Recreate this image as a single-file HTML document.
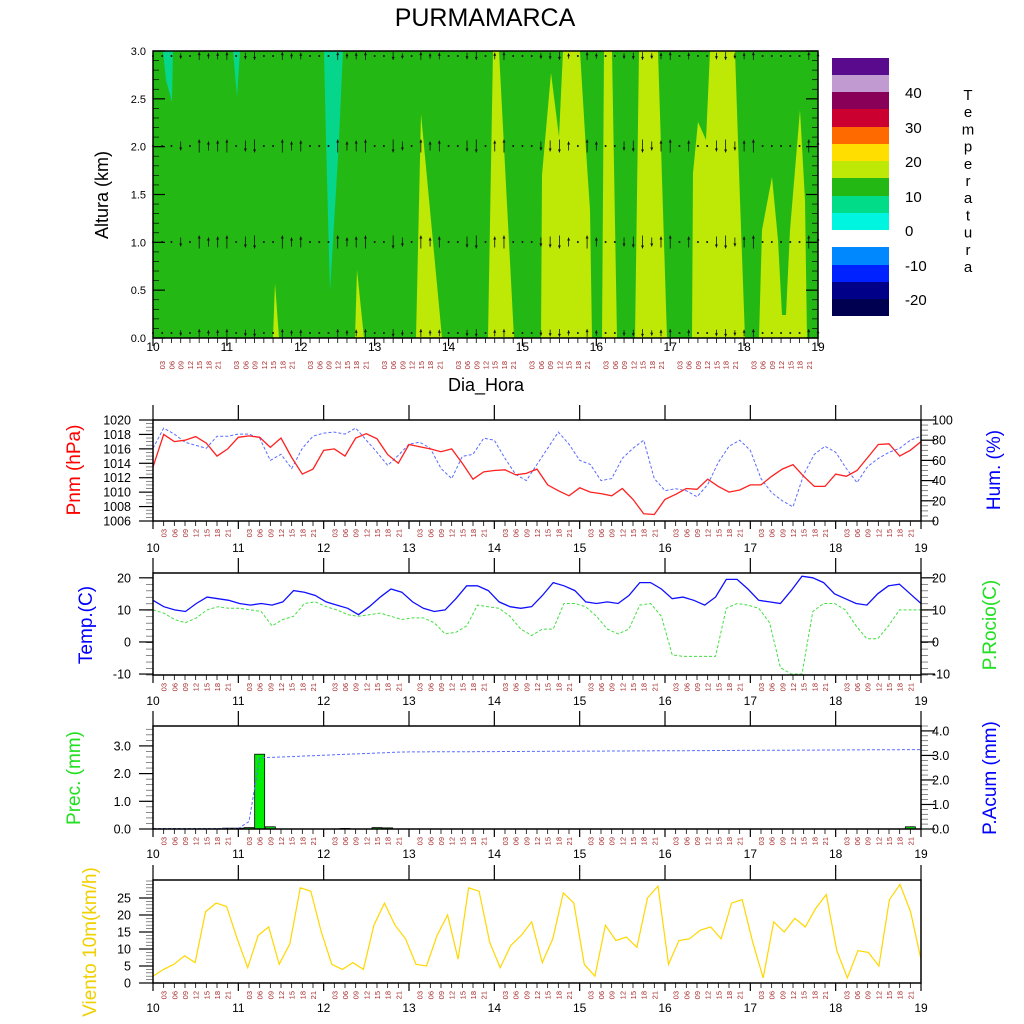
<!DOCTYPE html><html><head><meta charset="utf-8"><style>body{margin:0;background:#fff}svg{display:block;font-family:"Liberation Sans",sans-serif}</style></head><body>
<svg id="s" width="1024" height="1024" viewBox="0 0 1024 1024" xmlns="http://www.w3.org/2000/svg"></svg>
<script>
const S=document.getElementById('s');let h='';
const add=t=>h+=t;
function line(x1,y1,x2,y2,c='#000',w=1,extra=''){add(`<line x1="${x1}" y1="${y1}" x2="${x2}" y2="${y2}" stroke="${c}" stroke-width="${w}" ${extra}/>`);}
function txt(x,y,t,sz,c='#000',anchor='middle',rot=0){add(`<text x="${x}" y="${y}" font-size="${sz}" fill="${c}" text-anchor="${anchor}" ${rot?`transform="rotate(${rot} ${x} ${y})"`:''}>${t}</text>`);}
add(`<text x="485" y="26" font-size="25" text-anchor="middle">PURMAMARCA</text>`);
const TL=153,TR=818,TT=51,TB=338;
add(`<rect x="${TL}" y="${TT}" width="${TR-TL}" height="${TB-TT}" fill="#24b814"/>`);
const T='#05d68c',Y='#bee806';
const polys=[
[T,'163,51 173,51 172,102 166,80'],[T,'233,51 240,51 237,97'],[T,'324,51 343,51 339,140 330,292 326,140'],
[Y,'273,338 279,338 275,283'],[Y,'355,338 364,338 357,270'],[Y,'416,338 442,338 421,114'],
[Y,'493,51 499,51 514,338 488,338'],
[Y,'541,338 542,175 551,73 559,137 563,51 580,51 586,150 590,210 592,338'],
[Y,'604,51 612,51 617,338 602,338'],[Y,'639,51 658,51 667,338 635,338'],
[Y,'692,338 693,173 698,122 706,140 710,51 735,51 740,200 745,338'],
[Y,'759,338 762,230 772,177 778,240 782,315 786,315 790,230 800,110 805,200 807,338']];
polys.forEach(p=>add(`<polygon points="${p[1]}" fill="${p[0]}"/>`));
const dirs=[0,0,0,-1,0,1,1,1,1,0,-1,-1,0,0,1,1,1,0,0,0,1,1,1,1,0,0,-1,-1,0,1,1,1,0,0,-1,-1,0,1,1,0,0,0,-1,-1,-1,1,0,1,1,0,0,-1,-1,-1,-1,1,1,0,1,0,0,-1,-1,-1,1,1,0,0,0,0,0,1,1];
const dx=(TR-TL)/72;
[[242,1],[146,1],[56,0.6],[333,0.6]].forEach(([yc,f])=>{for(let i=0;i<73;i++){const x=TL+i*dx,d=dirs[i]||0;const L=(d===0?2:9+(i%3)*2)*f;
 if(d===0){add(`<circle cx="${x}" cy="${yc}" r="1" fill="#111"/>`);continue;}
 const y1=yc+d*L/2,y2=yc-d*L/2;line(x,y1,x,y2,'#111',0.8);
 add(`<polygon points="${x-1.5},${y2+d*3} ${x+1.5},${y2+d*3} ${x},${y2}" fill="#111"/>`);}});
add(`<rect x="${TL}" y="${TT}" width="${TR-TL}" height="${TB-TT}" fill="none" stroke="#000" stroke-width="1.5"/>`);
const kmp=(TB-TT)/3;
for(let k=0;k<=30;k++){const y=TB-k*kmp/10,M=k%5==0;line(TL,y,TL+(M?12:6),y,'#000',M?1.2:0.7);line(TR,y,TR-(M?12:6),y,'#000',M?1.2:0.7);if(M)txt(146,y+4,(k/10).toFixed(1),11,'#000','end');}
txt(108,195,'Altura (km)',18,'#000','middle',-90);
const hrs=['03','06','09','12','15','18','21'];
function xaxis(L,R,B,dayY,hrTop){const dd=(R-L)/9;
 for(let i=0;i<=72;i++){const x=L+i*dd/8,M=i%8==0;line(x,B,x,B+(M?8:5),'#000',M?1.2:0.8);
  if(M)txt(x,dayY,String(10+i/8),12,'#000','middle');else txt(x+3,hrTop,hrs[i%8-1],7.5,'#a52a2a','end',-90);} }
xaxis(TL,TR,TB,351,361);
txt(486,391,'Dia_Hora',18);
const cb=[[58,'#5a0a8c'],[75,'#c09ad0'],[92,'#880058'],[109,'#cc0030'],[127,'#ff6a00'],[144,'#ffde00'],[161,'#bee806'],[178,'#24b814'],[196,'#00dc88'],[213,'#00f5e0'],[247,'#0088ff'],[265,'#0022ff'],[282,'#000088'],[299,'#000050']];
cb.forEach((c,i)=>{const e=i==9?230:(i==13?316:cb[i+1][0]);add(`<rect x="832" y="${c[0]}" width="57" height="${e-c[0]}" fill="${c[1]}"/>`);});
[[40,92],[30,127],[20,161],[10,196],[0,230],[-10,265],[-20,299]].forEach(l=>txt(905,l[1]+6,l[0],15,'#000','start'));
'Temperatura'.split('').forEach((c,i)=>txt(968,100+i*17.2,c,15));
const L=153,R=921;
function panel(top,bot){const dd=(R-L)/9;for(let d=0;d<=9;d++){const x=L+d*dd;line(x,top-15,x,top,'#000',1.2);}
 add(`<rect x="${L}" y="${top}" width="${R-L}" height="${bot-top}" fill="none" stroke="#000" stroke-width="1.5"/>`);}
function yticks(top,bot,v0,v1,step,minor,lab,side){const sc=(bot-top)/(v1-v0);
 for(let v=v0;v<=v1+1e-9;v+=minor){const y=bot-(v-v0)*sc;
  const x=side=='L'?L:R,s=side=='L'?-1:1;line(x,y,x+s*7,y,'#555',0.7);}}
function ylabels(top,bot,v0,v1,vals,side,fmt){const sc=(bot-top)/(v1-v0);vals.forEach(v=>{const y=bot-(v-v0)*sc;
 if(side=='L'){line(L-14,y,L,y,'#000',1.2);txt(131,y+4.5,fmt(v),12.5,'#000','end');}else{line(R,y,R+14,y,'#000',1.2);txt(932,y+4.5,fmt(v),12.5,'#000','start');}});}
function path(top,bot,v0,v1,arr,col,dash,w=1.2){const sc=(bot-top)/(v1-v0);const n=arr.length;
 const pts=arr.map((v,i)=>`${(L+i*(R-L)/(n-1)).toFixed(1)},${(bot-(v-v0)*sc).toFixed(1)}`).join(' ');
 add(`<polyline points="${pts}" fill="none" stroke="${col}" stroke-width="${w}" ${dash?'stroke-dasharray="3,2"':''}/>`);}
let t=420,b=521;
const pnm=[1013.5,1018,1017,1017.2,1017.7,1016.8,1015,1016,1017.6,1017.8,1017.6,1016.2,1017.5,1014.8,1012.5,1013.2,1015.8,1016,1015,1017.5,1018.1,1017.4,1015.2,1014,1016.6,1016.3,1016,1015.6,1016,1014,1011.8,1012.8,1013,1013.1,1012.4,1012.6,1013.2,1011,1010.2,1009.5,1010.6,1010,1009.8,1009.5,1010.5,1009,1007,1006.9,1009,1009.7,1010.5,1010.4,1011.8,1010.8,1010,1010.3,1011,1011,1012.2,1013.2,1013.8,1012.2,1010.8,1010.8,1012.5,1012.2,1013,1014.8,1016.6,1016.7,1015,1015.8,1017];
const hum=[72,92,86,78,75,72,84,84,86,86,82,60,66,52,72,84,87,88,86,92,80,68,55,65,76,78,72,52,42,64,66,82,80,62,46,40,56,72,88,76,60,56,40,42,62,72,80,42,30,32,30,24,36,58,74,80,70,42,28,20,14,46,66,74,68,52,38,54,62,68,72,80,84];
yticks(t,b,1006,1020,2,0.5,1,'L');yticks(t,b,0,100,20,5,1,'R');
path(t,b,0,100,hum,'#5a6cff',1,1);path(t,b,1006,1020,pnm,'#ff2020',0,1.3);
panel(t,b);ylabels(t,b,1006,1020,[1006,1008,1010,1012,1014,1016,1018,1020],'L',v=>v);ylabels(t,b,0,100,[0,20,40,60,80,100],'R',v=>v);
xaxis(L,R,b,552,b+8);
txt(80,470,'Pnm (hPa)',19,'#ff0000','middle',-90);txt(1000,470,'Hum. (%)',19,'#0000ff','middle',-90);
t=573;b=675;const tv0=-10.3,tv1=21.5;
const temp=[13,11,10,9.5,12,14,13.5,13,12,11.5,12,11.5,12.5,16,15.5,14.5,12.5,11.5,10.5,8.5,11,14,16.5,15.5,12.5,10.5,9.5,10,13.5,17.5,17.5,16,12.5,11,10.5,11,14.5,18.5,17.5,16,12.5,12,12.5,12,14.5,18.5,18.5,16.5,13.5,14,13,11.5,14,19.5,19.5,16.5,13,12.5,12,16,20.5,20,18.5,15,13.5,12,11.5,15,17.5,18,15,12];
const dew=[10,9,7,6,7.5,10,11,10.5,10.5,10,9.5,5,7,8,12,12.5,11,10,8.5,8,8.5,9,8,7,7.5,7.5,6,2.5,3,5,11.5,11,10.5,8,4,2,4,4,12,12,11,8,4,2.5,4,11.5,12,8,-4,-4.5,-4.5,-4.5,-4.5,10.5,12,11.5,10.5,6,-8,-10,-10,9.5,12,12,10,5,1,1,5,10,10,10];
yticks(t,b,-10,21.5,10,2,1,'L');yticks(t,b,-10,21.5,10,2,1,'R');
path(t,b,tv0,tv1,dew,'#40e040',1,1);path(t,b,tv0,tv1,temp,'#1010ff',0,1.3);
panel(t,b);ylabels(t,b,tv0,tv1,[-10,0,10,20],'L',v=>v);ylabels(t,b,tv0,tv1,[-10,0,10,20],'R',v=>v);
xaxis(L,R,b,705,b+8);
txt(92,625,'Temp.(C)',19,'#0000ff','middle',-90);txt(996,625,'P.Rocio(C)',19,'#20e020','middle',-90);
t=726;b=829;const pv1=(b-t)/27.7;
const dxh=(R-L)/72;
[[7,0.03],[8,0.03],[9,0.05],[10,2.7],[11,0.08],[18,0.02],[21,0.05],[22,0.04],[71,0.08]].forEach(q=>{const x=L+q[0]*dxh,hh=q[1]*27.7;add(`<rect x="${x-5}" y="${b-hh}" width="10" height="${hh}" fill="#00ee00" stroke="#000" stroke-width="0.8"/>`);});
const ac=[];for(let i=0;i<73;i++){let v=i<9?0.02:i<10?0.3:2.9+Math.min(i-10,13)*0.018;if(i>23)v=3.14+(i-23)*0.002;ac.push(v);}
yticks(t,b,0,pv1,1,0.2,1,'L');yticks(t,b,0,4.2,1,0.2,1,'R');
path(t,b,0,4.2,ac,'#5a6cff',1,1);
panel(t,b);ylabels(t,b,0,pv1,[0,1,2,3],'L',v=>v.toFixed(1));ylabels(t,b,0,4.2,[0,1,2,3,4],'R',v=>v.toFixed(1));
xaxis(L,R,b,858,b+8);
txt(80,778,'Prec. (mm)',19,'#20e020','middle',-90);txt(996,778,'P.Acum (mm)',19,'#0000ff','middle',-90);
t=880;b=983;const wv1=(b-t)/3.4;
const wind=[2,4,5.5,8,6,21,23.5,22.5,13,4.5,14,16.5,5.5,11.5,28,27,15,5.5,4,6,4,17,23.5,17,13,5.5,5,14,20,7,28,27,12,4.5,11,14,18,6,13,26.5,23.5,5.5,2,17,12.5,13.5,10.5,25,28.5,5.5,12.5,13,15.5,16.5,13,23.5,24.5,12,1.5,18,15,19,16.5,22,26,9.5,1.5,9.5,9,5,24.5,29,21,7];
yticks(t,b,0,wv1,5,1,1,'L');
path(t,b,0,wv1,wind,'#ffd700',0,1.2);
panel(t,b);ylabels(t,b,0,wv1,[0,5,10,15,20,25],'L',v=>v);
xaxis(L,R,b,1012,b+8);
txt(96,942,'Viento 10m(km/h)',19,'#f0d000','middle',-90);
S.innerHTML=h;
</script></body></html>
